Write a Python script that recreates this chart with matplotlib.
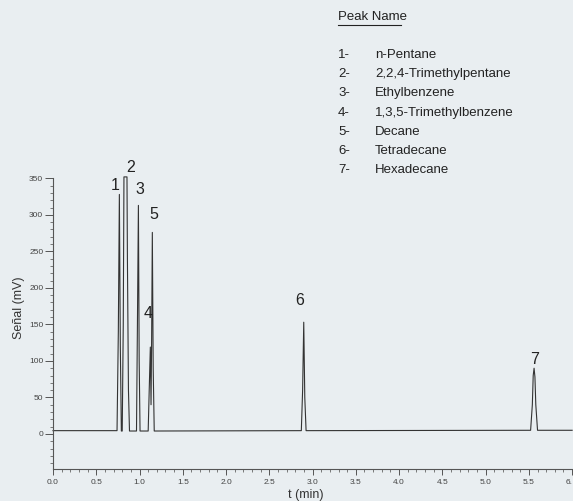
import matplotlib
matplotlib.use("Agg")
import matplotlib.pyplot as plt
from matplotlib.ticker import MultipleLocator

# Chromatogram trace, vertices (time in min, signal in mV)
trace_t = [0.000, 0.740, 0.755, 0.767, 0.778, 0.790,
           0.800, 0.812, 0.820, 0.855, 0.860, 0.872, 0.884,
           0.965, 0.975, 0.987, 0.996, 1.006,
           1.100, 1.112, 1.125, 1.133, 1.140, 1.148, 1.158, 1.170,
           2.870, 2.885, 2.898, 2.910, 2.925,
           5.520, 5.540, 5.550, 5.560, 5.570, 5.580, 5.600, 6.000]
trace_mv = [4.5, 4.5, 140, 328, 120, 4,
            4, 150, 352, 352, 240, 60, 4,
            4, 140, 313, 100, 4,
            4, 60, 119, 40, 130, 276, 90, 4,
            4.5, 60, 153, 50, 4.5,
            5, 40, 80, 90, 78, 40, 5, 5]

# Peak annotations
peak_ids = ["1", "2", "3", "4", "5", "6", "7"]
label_t = [0.72, 0.90, 1.00, 1.095, 1.165, 2.85, 5.57]
label_mv = [330, 355, 325, 155, 290, 172, 92]

peak_names = ["n-Pentane", "2,2,4-Trimethylpentane", "Ethylbenzene",
              "1,3,5-Trimethylbenzene", "Decane", "Tetradecane", "Hexadecane"]

x_ticks = [0.0, 0.5, 1.0, 1.5, 2.0, 2.5, 3.0, 3.5, 4.0, 4.5, 5.0, 5.5, 6.0]
x_ticklabels = ["0.0", "0.5", "1.0", "1.5", "2.0", "2.5", "3.0", "3.5",
                "4.0", "4.5", "5.0", "5.5", "6."]
y_ticks = [0, 50, 100, 150, 200, 250, 300, 350]

bg = "#e9eef1"
ink = "#333333"

plt.rcParams["font.family"] = ["Liberation Sans", "DejaVu Sans"]

fig = plt.figure(figsize=(5.73, 5.01), dpi=100, facecolor=bg)
ax = fig.add_axes([0.0925, 0.0639, 0.906, 0.583], facecolor=bg)

ax.plot(trace_t, trace_mv, color=ink, lw=0.8, clip_on=False)

for pid, t, v in zip(peak_ids, label_t, label_mv):
    ax.text(t, v, pid, fontsize=11.5, color="#222222", ha="center", va="bottom")

ax.set_xlim(0, 6.0)
ax.set_ylim(-48, 352)
ax.spines["top"].set_visible(False)
ax.spines["right"].set_visible(False)
ax.spines["left"].set_bounds(-48, 350)
for s in ("left", "bottom"):
    ax.spines[s].set_color("#555555")
    ax.spines[s].set_linewidth(0.8)

ax.xaxis.set_minor_locator(MultipleLocator(0.1))
ax.yaxis.set_minor_locator(MultipleLocator(10))
ax.set_yticks(y_ticks)
ax.set_xticks(x_ticks)
ax.set_xticklabels(x_ticklabels)
# last label sits against the right edge, as in the scan
ax.get_xticklabels()[-1].set_horizontalalignment("right")
ax.tick_params(axis="both", which="major", colors="#555555", labelcolor="#444444",
               labelsize=6, width=0.7)
ax.tick_params(axis="x", which="major", length=4, pad=3)
ax.tick_params(axis="y", which="major", length=6, pad=1)
ax.tick_params(axis="both", which="minor", colors="#666666", width=0.6, length=2.5)

fig.text(19 / 573, 1 - 308 / 501, "Señal (mV)", rotation=90, fontsize=9,
         color="#333333", ha="center", va="center")
fig.text(306 / 573, 1 - 489 / 501, "t (min)", fontsize=9, color="#333333",
         ha="center", va="top")

# Peak name list
fig.text(338 / 573, 1 - 17 / 501, "Peak Name", fontsize=9.5, color="#222222",
         va="center", ha="left")
fig.add_artist(plt.Line2D([338 / 573, 401 / 573], [1 - 25 / 501, 1 - 25 / 501],
                          color="#222222", lw=0.8))
for i, name in enumerate(peak_names):
    y = 1 - (55 + i * 19.2) / 501
    fig.text(338 / 573, y, f"{i + 1}-", fontsize=9.5, color="#222222", va="center")
    fig.text(375 / 573, y, name, fontsize=9.5, color="#222222", va="center")

fig.savefig("out.png", dpi=100, facecolor=bg)
